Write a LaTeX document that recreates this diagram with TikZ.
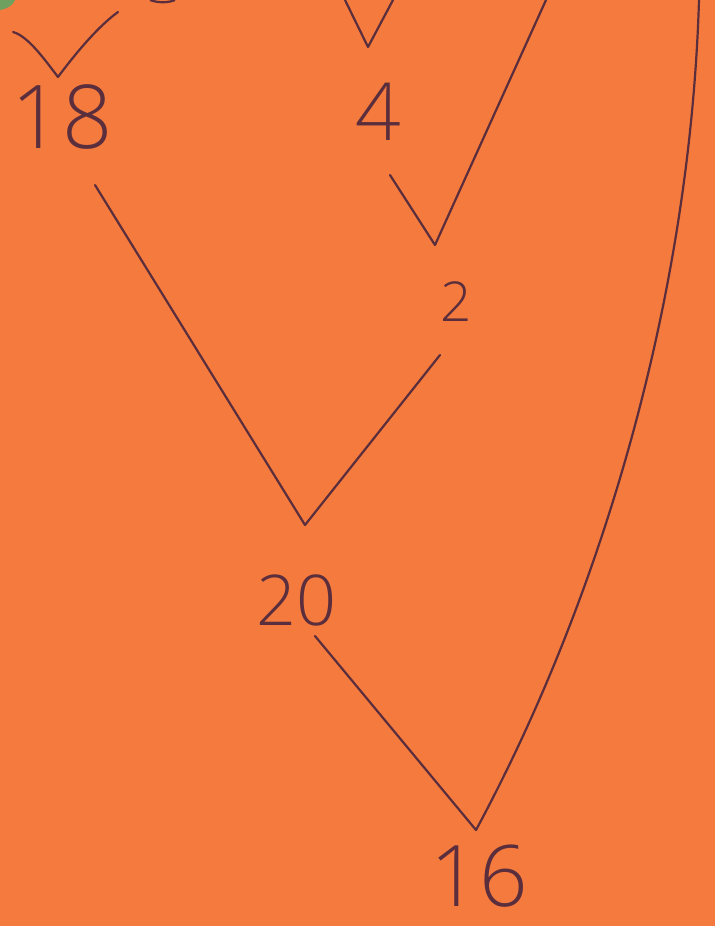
\documentclass[tikz,border=0pt]{standalone}
\usepackage{fontspec}
\setsansfont{Open Sans Light}[BoldFont={Open Sans}]
\definecolor{paper}{HTML}{F57A3E}
\definecolor{ink}{HTML}{5A2E3C}
\definecolor{leaf}{HTML}{6FA060}
\begin{document}
\begin{tikzpicture}[x=1pt,y=-1pt,
  pen/.style={draw=ink,line width=2.2pt,line cap=round,line join=round},
  num/.style={text=ink,font=\sffamily\fontsize{#1}{#1}\selectfont,inner sep=0pt},
  num/.default=80]
\fill[paper] (0,0) rectangle (715,926);
\useasboundingbox (0,0) rectangle (715,926);
% green blob and dark mark at top edge
\fill[leaf] (0,0) -- (15,0) .. controls (13,6) and (6,9) .. (0,10) -- cycle;
\draw[ink,line width=2.2pt] (150,0) .. controls (158,3) and (168,3) .. (175,0);
% numbers
\node[num=88] (n18) at (62,117) {18};
\node[num=80] (n4) at (378,112) {4};
\node[num=55] (n2) at (456,302) {2};
\node[num=70] (n20) at (296,600) {20};
\node[num=85] (n16) at (479,876) {16};
% coordinates for stroke ends
\coordinate (a1) at (13,32); \coordinate (a2) at (58,77); \coordinate (a3) at (118,12);
\coordinate (b1) at (345,0); \coordinate (b2) at (368,47); \coordinate (b3) at (393,0);
\coordinate (c1) at (390,175); \coordinate (c2) at (435,245); \coordinate (c3) at (546,0);
\coordinate (d1) at (95,185); \coordinate (d2) at (305,525); \coordinate (d3) at (440,355);
\coordinate (e1) at (315,636); \coordinate (e2) at (476,830); \coordinate (e3) at (699,0);
% V above 18
\draw[pen] (a1) .. controls (28,36) and (45,60) .. (a2) .. controls (78,50) and (100,25) .. (a3);
% V above 4
\draw[pen] (b1) -- (b2) -- (b3);
% 4 & 2-level V
\draw[pen] (c1) -- (c2) -- (c3);
% 18, 2 -> 20
\draw[pen] (d1) -- (d2) -- (d3);
% 20 and long curve -> 16
\draw[pen] (e1) -- (e2) .. controls (600,600) and (690,300) .. (e3);
\end{tikzpicture}
\end{document}
